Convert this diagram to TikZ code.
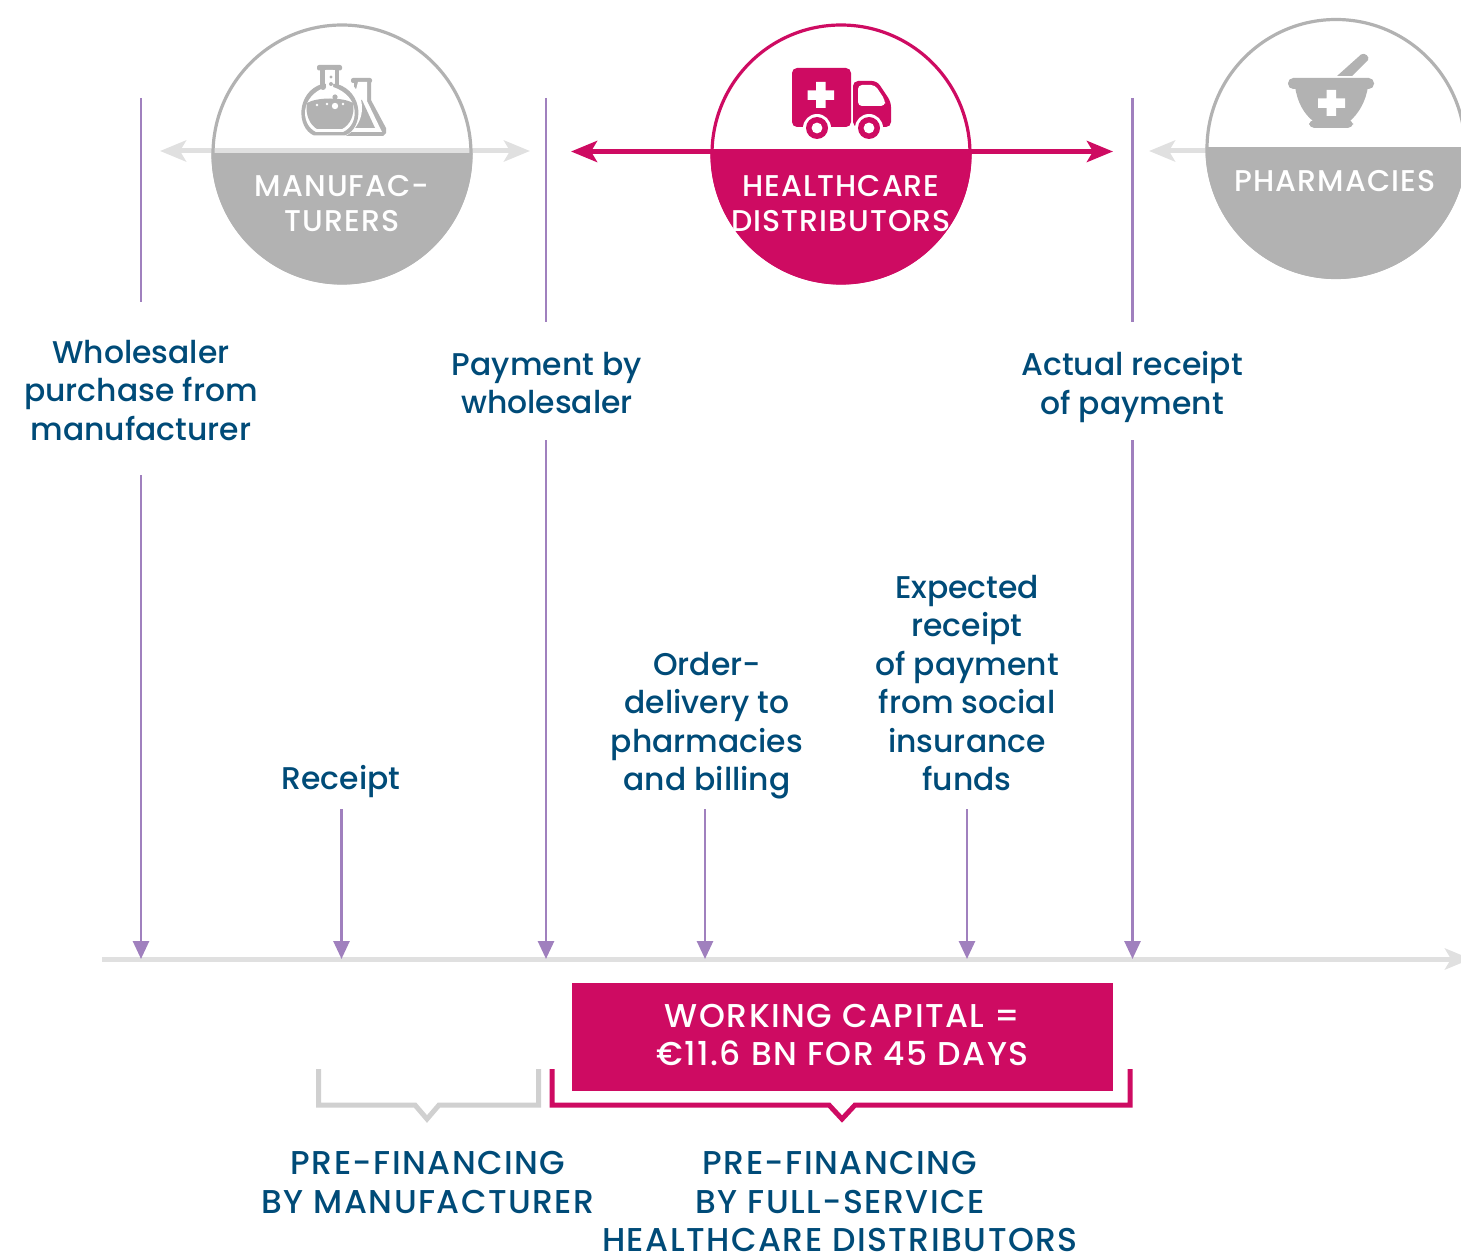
\documentclass[tikz,border=0pt]{standalone}
\usepackage{fontspec}
\setmainfont{Poppins Medium}
\newfontfamily\capsfont[LetterSpace=4.5]{Poppins Medium}
\newfontfamily\whitefont[LetterSpace=3.5]{Poppins Medium}
\usetikzlibrary{arrows.meta}
\definecolor{pinkc}{HTML}{CE0B62}
\definecolor{grayc}{HTML}{B2B2B2}
\definecolor{lightc}{HTML}{E0E0E0}
\definecolor{brackc}{HTML}{D0D0D0}
\definecolor{purplec}{HTML}{A080BE}
\definecolor{bluec}{HTML}{004B78}
\tikzset{
  vline/.style={draw=purplec,line width=1.35pt},
  vlinea/.style={vline,-{Stealth[length=9pt,width=8pt,inset=0pt]}},
  lab/.style={text=bluec,align=center,inner sep=0pt,font=\fontsize{15.7}{19.25}\selectfont},
  caplab/.style={lab,font=\capsfont\fontsize{16.5}{19.4}\selectfont},
  whitelab/.style={text=white,align=center,inner sep=0pt,font=\whitefont\fontsize{15}{17.5}\selectfont},
  ring/.style={circle,draw,line width=1.6pt,minimum size=129pt,inner sep=0pt},
  bigarrow/.style={line width=2.5pt,{Stealth[length=13pt,width=10.5pt,inset=3pt]}-{Stealth[length=13pt,width=10.5pt,inset=3pt]}},
  onearrow/.style={line width=2.5pt,-{Stealth[length=13pt,width=10.5pt,inset=3pt]}},
  bracket/.style={line width=2.5pt,miter limit=10},
}
\begin{document}
\begin{tikzpicture}[x=0.5pt,y=-0.5pt]
\clip (0,0) rectangle (1461,1257);
% manufacturers
\begin{scope}
\clip (190,153) rectangle (500,300);
\fill[grayc] (342,154) circle[radius=65.25pt];
\end{scope}
\coordinate (mL) at (160,151);
\coordinate (mR) at (530,151);
\draw[bigarrow,lightc] (mL) -- (mR);
\node[ring,draw=grayc] (man) at (342,154) {};
% flasks
\fill[grayc,rounded corners=1pt] (351,78) rectangle (372,83);
\fill[grayc] (354,82) -- (371,82) -- (371,100) -- (386,128) -- (386,133) -- (383,136) -- (340,136) -- (340,100) -- (354,100) -- cycle;
\fill[white] (358,82) -- (367,82) -- (367,101) -- (382,132) -- (345,132) -- cycle;
\fill[grayc] (358,100) -- (362,100) -- (375,128) -- (345,128) -- (345,110) -- cycle;
\fill[white] (330,108) circle[radius=16pt];
\fill[grayc,rounded corners=1pt] (317,65) rectangle (342,70.5);
\fill[grayc] (320,68) rectangle (339,90);
\fill[white] (325,70) rectangle (335,90);
\fill[grayc] (314,135.5) .. controls (296,128) and (296,92) .. (322,84) -- (337,84) .. controls (364,92) and (364,128) .. (345,135.5) -- cycle;
\fill[white] (316,132) .. controls (300,124) and (300,96) .. (326,87) -- (326,70) -- (333,70) -- (333,87) .. controls (360,96) and (360,124) .. (343,132) -- cycle;
\fill[grayc] (307,103) .. controls (317,97) and (343,97) .. (353,103) .. controls (355,115) and (350,125) .. (342,129) -- (317,129) .. controls (310,125) and (305,115) .. (307,103) -- cycle;
\fill[grayc] (323,87) circle[radius=1.5pt] (335,97) circle[radius=1.3pt] (331,84) circle[radius=1pt] (331,77) circle[radius=.8pt];
\fill[white] (317,105) circle[radius=.7pt] (327,104) circle[radius=.7pt] (335,106) circle[radius=1.6pt] (343,104) circle[radius=.7pt];
% healthcare
\begin{scope}
\clip (700,149.5) rectangle (985,300);
\fill[pinkc] (841,154) circle[radius=65.25pt];
\end{scope}
\coordinate (hL) at (571,151.5);
\coordinate (hR) at (1113,151.5);
\draw[bigarrow,pinkc] (hL) -- (hR);
\node[ring,draw=pinkc] (hea) at (841,154) {};
% truck
\fill[pinkc,rounded corners=2.5pt] (792,68) rectangle (851,127);
\fill[pinkc,rounded corners=2.5pt] (853,81) -- (877,81) -- (891,102) -- (891,127) -- (853,127) -- cycle;
\fill[white,rounded corners=2pt] (858,85) -- (875,85) -- (885,100) -- (885,106) -- (858,106) -- cycle;
\fill[white] (816,82) rectangle (825.5,108) (807.5,90.5) rectangle (834,100);
\fill[white] (817,128) circle[radius=7pt] (869,128) circle[radius=7pt];
\fill[pinkc] (817,128) circle[radius=5.5pt] (869,128) circle[radius=5.5pt];
\fill[white] (817,128) circle[radius=2.7pt] (869,128) circle[radius=2.7pt];
% pharmacies
\begin{scope}
\clip (1190,147.5) rectangle (1480,300);
\fill[grayc] (1336,148.5) circle[radius=65.25pt];
\end{scope}
\coordinate (pL) at (1149,151);
\coordinate (pR) at (1208,151);
\draw[onearrow,lightc] (pR) -- (pL);
\node[ring,draw=grayc] (pha) at (1336,148.5) {};
% mortar
\fill[grayc] (1337,76) -- (1361,54.5) .. controls (1365,52) and (1370,57) .. (1368,60) -- (1352,76) -- cycle;
\fill[grayc,rounded corners=2.6pt] (1288,78) rectangle (1374,89);
\fill[grayc] (1295,86) -- (1368,86) .. controls (1366,102) and (1358,114) .. (1350,121) -- (1313,121) .. controls (1304,114) and (1297,102) .. (1295,86) -- cycle;
\fill[grayc,rounded corners=2.6pt] (1309,120) rectangle (1353,128);
\fill[white] (1326.5,90) rectangle (1336,116) (1318,98.5) rectangle (1345,108);
% circle labels
\node[whitelab] (tman) at (342,203.5) {MANUFAC-\\TURERS};
\node[whitelab] (thea) at (841,203.5) {HEALTHCARE\\DISTRIBUTORS};
\node[whitelab] (tpha) at (1335,181) {PHARMACIES};
% labels
\node[lab] (l1) at (141,390.5) {Wholesaler\\purchase from\\manufacturer};
\node[lab] (l2) at (547,383) {Payment by\\wholesaler};
\node[lab] (l3) at (1132,387) {Actual receipt\\of payment};
\node[lab] (l4) at (341,782) {Receipt};
\node[lab] (l5) at (707,725.5) {Order-\\delivery to\\pharmacies\\and billing};
\node[lab] (l6) at (967,683) {Expected\\receipt\\of payment\\from social\\insurance\\funds};
% timeline
\coordinate (axL) at (102,959);
\coordinate (axR) at (1471,959);
\draw[onearrow,lightc] (axL) -- (axR);
% purple connectors
\coordinate (a1) at (141,98); \coordinate (b1) at (141,302);
\coordinate (c1) at (141,475); \coordinate (d1) at (141,959);
\coordinate (a3) at (546,98); \coordinate (b3) at (546,322);
\coordinate (c3) at (546,440); \coordinate (d3) at (546,959);
\coordinate (a6) at (1132.5,98); \coordinate (b6) at (1132.5,322);
\coordinate (c6) at (1132.5,440); \coordinate (d6) at (1132.5,959);
\coordinate (c2) at (341.5,809); \coordinate (d2) at (341.5,959);
\coordinate (c4) at (705,809); \coordinate (d4) at (705,959);
\coordinate (c5) at (967,809); \coordinate (d5) at (967,959);
\draw[vline] (a1) -- (b1);
\draw[vline] (a3) -- (b3);
\draw[vline] (a6) -- (b6);
\draw[vlinea] (c1) -- (d1);
\draw[vlinea] (c2) -- (d2);
\draw[vlinea] (c3) -- (d3);
\draw[vlinea] (c4) -- (d4);
\draw[vlinea] (c5) -- (d5);
\draw[vlinea] (c6) -- (d6);
% working capital
\node[fill=pinkc,minimum width=270.5pt,minimum height=54pt,inner sep=0pt] (wc) at (842.5,1037) {};
\node[text=white,align=center,inner sep=0pt,font=\capsfont\fontsize{16.5}{19.25}\selectfont] (wct) at (842.5,1035) {WORKING CAPITAL =\\€11.6 BN FOR 45 DAYS};
% brackets
\draw[bracket,brackc] (318.5,1069) -- (318.5,1105) -- (415,1105) -- (427,1119) -- (439,1105) -- (538.5,1105) -- (538.5,1069);
\draw[bracket,pinkc] (552,1069) -- (552,1105) -- (829,1105) -- (842,1119) -- (855,1105) -- (1130,1105) -- (1130,1069);
\node[caplab] (p1) at (428,1182.5) {PRE-FINANCING\\BY MANUFACTURER};
\node[caplab] (p2) at (840,1201.5) {PRE-FINANCING\\BY FULL-SERVICE\\HEALTHCARE DISTRIBUTORS};
\end{tikzpicture}
\end{document}
